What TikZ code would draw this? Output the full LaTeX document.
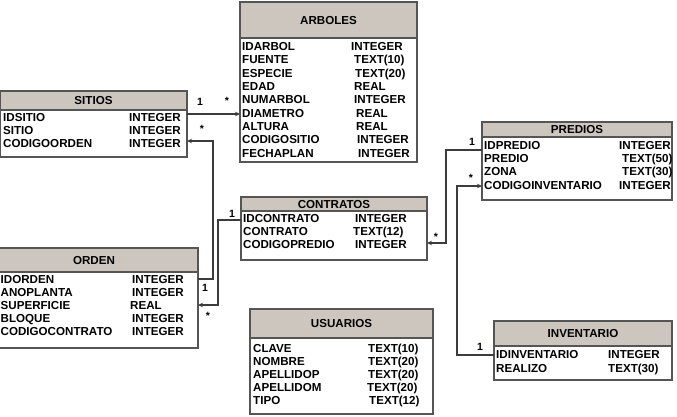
\documentclass[tikz,border=0pt]{standalone}
\usepackage{fontspec}
\setmainfont{Liberation Sans}
\usetikzlibrary{arrows.meta}
\definecolor{hdrc}{RGB}{205,198,191}
\definecolor{boxc}{RGB}{85,85,85}
\definecolor{linec}{RGB}{60,60,60}
\newcommand\tblfont{\fontsize{11.6}{13}\selectfont\bfseries}
\newcommand\cardfont{\fontsize{10.5}{11}\selectfont\bfseries}
\begin{document}
\begin{tikzpicture}[x=1pt,y=-1pt,
  tbl/.style={draw=boxc,line width=1.2pt,anchor=north west,inner sep=0pt,outer sep=0pt},
  hdr/.style={fill=hdrc,draw=boxc,line width=1.2pt,anchor=north west,inner sep=0pt,outer sep=0pt},
  ttl/.style={inner sep=0pt,font=\tblfont,text height=8.2pt,text depth=0pt},
  fld/.style={anchor=west,inner sep=0pt,font=\tblfont,text height=8.2pt,text depth=0pt},
  card/.style={inner sep=0pt,font=\cardfont},
  conn/.style={draw=linec,line width=1.1pt},
  arr/.style={conn,-{Stealth[length=5pt,width=4.5pt]}}]
\useasboundingbox (0,0) rectangle (677,417);

% ARBOLES
\node[hdr,minimum width=177pt,minimum height=36pt] (arbolesh) at (240,2) {};
\node[tbl,minimum width=177pt,minimum height=160pt] (arboles) at (240,2) {};
\node[ttl] (arbolest) at (328.5,20) {ARBOLES};
\node[fld] (a1) at (242,46) {IDARBOL};      \node[fld] (a1t) at (351,46) {INTEGER};
\node[fld] (a2) at (242,59.5) {FUENTE};     \node[fld] (a2t) at (354,59.5) {TEXT(10)};
\node[fld] (a3) at (242,73) {ESPECIE};      \node[fld] (a3t) at (355,73) {TEXT(20)};
\node[fld] (a4) at (242,86) {EDAD};         \node[fld] (a4t) at (354,86) {REAL};
\node[fld] (a5) at (242,99.5) {NUMARBOL};   \node[fld] (a5t) at (354,99.5) {INTEGER};
\node[fld] (a6) at (242,113) {DIAMETRO};    \node[fld] (a6t) at (356,113) {REAL};
\node[fld] (a7) at (242,126) {ALTURA};      \node[fld] (a7t) at (356,126) {REAL};
\node[fld] (a8) at (242,139.5) {CODIGOSITIO}; \node[fld] (a8t) at (357,139.5) {INTEGER};
\node[fld] (a9) at (242,153) {FECHAPLAN};   \node[fld] (a9t) at (358,153) {INTEGER};

% SITIOS
\node[hdr,minimum width=187pt,minimum height=19pt] (sitiosh) at (0,91) {};
\node[tbl,minimum width=187pt,minimum height=66pt] (sitios) at (0,91) {};
\node[ttl] (sitiost) at (93.5,100.5) {SITIOS};
\node[fld] (s1) at (3,117) {IDSITIO};      \node[fld] (s1t) at (129,117) {INTEGER};
\node[fld] (s2) at (3,130) {SITIO};        \node[fld] (s2t) at (129,130) {INTEGER};
\node[fld] (s3) at (3,143) {CODIGOORDEN};  \node[fld] (s3t) at (129,143) {INTEGER};

% CONTRATOS
\node[hdr,minimum width=186pt,minimum height=14pt] (contratosh) at (241,197) {};
\node[tbl,minimum width=186pt,minimum height=63pt] (contratos) at (241,197) {};
\node[ttl] (contratost) at (334,204) {CONTRATOS};
\node[fld] (c1) at (243,218) {IDCONTRATO};   \node[fld] (c1t) at (355,218) {INTEGER};
\node[fld] (c2) at (243,231) {CONTRATO};     \node[fld] (c2t) at (353,231) {TEXT(12)};
\node[fld] (c3) at (243,244) {CODIGOPREDIO}; \node[fld] (c3t) at (355,244) {INTEGER};

% PREDIOS
\node[hdr,minimum width=190pt,minimum height=15pt] (prediosh) at (482,122) {};
\node[tbl,minimum width=190pt,minimum height=78pt] (predios) at (482,122) {};
\node[ttl] (prediost) at (577,129.5) {PREDIOS};
\node[fld] (p1) at (484,145) {IDPREDIO};          \node[fld] (p1t) at (619,145) {INTEGER};
\node[fld] (p2) at (484,158) {PREDIO};            \node[fld] (p2t) at (622,158) {TEXT(50)};
\node[fld] (p3) at (484,171) {ZONA};              \node[fld] (p3t) at (622,171) {TEXT(30)};
\node[fld] (p4) at (484,185) {CODIGOINVENTARIO};  \node[fld] (p4t) at (619,185) {INTEGER};

% ORDEN
\node[hdr,minimum width=207pt,minimum height=24pt] (ordenh) at (-9,248) {};
\node[tbl,minimum width=207pt,minimum height=100pt] (orden) at (-9,248) {};
\node[ttl] (ordent) at (94,260) {ORDEN};
\node[fld] (o1) at (0.5,279) {IDORDEN};          \node[fld] (o1t) at (132,279) {INTEGER};
\node[fld] (o2) at (0.5,292) {ANOPLANTA};        \node[fld] (o2t) at (132,292) {INTEGER};
\node[fld] (o3) at (0.5,305) {SUPERFICIE};       \node[fld] (o3t) at (130,305) {REAL};
\node[fld] (o4) at (0.5,318) {BLOQUE};           \node[fld] (o4t) at (132,318) {INTEGER};
\node[fld] (o5) at (0.5,331) {CODIGOCONTRATO};   \node[fld] (o5t) at (132,331) {INTEGER};

% USUARIOS
\node[hdr,minimum width=183pt,minimum height=29pt] (usuariosh) at (250,309) {};
\node[tbl,minimum width=183pt,minimum height=105pt] (usuarios) at (250,309) {};
\node[ttl] (usuariost) at (341.5,323.5) {USUARIOS};
\node[fld] (u1) at (253,348) {CLAVE};      \node[fld] (u1t) at (368,348) {TEXT(10)};
\node[fld] (u2) at (253,361) {NOMBRE};     \node[fld] (u2t) at (368,361) {TEXT(20)};
\node[fld] (u3) at (253,374) {APELLIDOP};  \node[fld] (u3t) at (368,374) {TEXT(20)};
\node[fld] (u4) at (253,387) {APELLIDOM};  \node[fld] (u4t) at (367,387) {TEXT(20)};
\node[fld] (u5) at (253,400) {TIPO};       \node[fld] (u5t) at (369,400) {TEXT(12)};

% INVENTARIO
\node[hdr,minimum width=178pt,minimum height=25pt] (inventarioh) at (494,321) {};
\node[tbl,minimum width=178pt,minimum height=59pt] (inventario) at (494,321) {};
\node[ttl] (inventariot) at (583,333.5) {INVENTARIO};
\node[fld] (i1) at (496,354) {IDINVENTARIO}; \node[fld] (i1t) at (608,354) {INTEGER};
\node[fld] (i2) at (496,368) {REALIZO};      \node[fld] (i2t) at (608,368) {TEXT(30)};

% connector points
\coordinate (k1a) at (213,279);
\coordinate (k1b) at (213,141);
\coordinate (k2a) at (218,220);
\coordinate (k2b) at (218,305);
\coordinate (k3s) at (482,150);
\coordinate (k3a) at (446,150);
\coordinate (k3b) at (446,243);
\coordinate (k4a) at (457,355);
\coordinate (k4b) at (457,186);

% SITIOS -> ARBOLES
\draw[arr] (sitios.east |- 0,114) -- (arboles.west |- 0,114);
\node[card] (l1a) at (200,102) {1};
\node[card] (l1b) at (227,101) {*};
% ORDEN -> SITIOS
\draw[arr] (orden.east |- k1a) -- (k1a) -- (k1b) -- (sitios.east |- k1b);
\node[card] (l2a) at (205,288) {1};
\node[card] (l2b) at (202,129) {*};
% CONTRATOS -> ORDEN
\draw[arr] (contratos.west |- k2a) -- (k2a) -- (k2b) -- (orden.east |- k2b);
\node[card] (l3a) at (232,214) {1};
\node[card] (l3b) at (208,316) {*};
% PREDIOS -> CONTRATOS
\draw[arr] (k3s) -- (k3a) -- (k3b) -- (contratos.east |- k3b);
\node[card] (l4a) at (472,142) {1};
\node[card] (l4b) at (436,237) {*};
% INVENTARIO -> PREDIOS
\draw[arr] (inventario.west |- k4a) -- (k4a) -- (k4b) -- (predios.west |- k4b);
\node[card] (l5a) at (480,347) {1};
\node[card] (l5b) at (471,178) {*};
\end{tikzpicture}
\end{document}
